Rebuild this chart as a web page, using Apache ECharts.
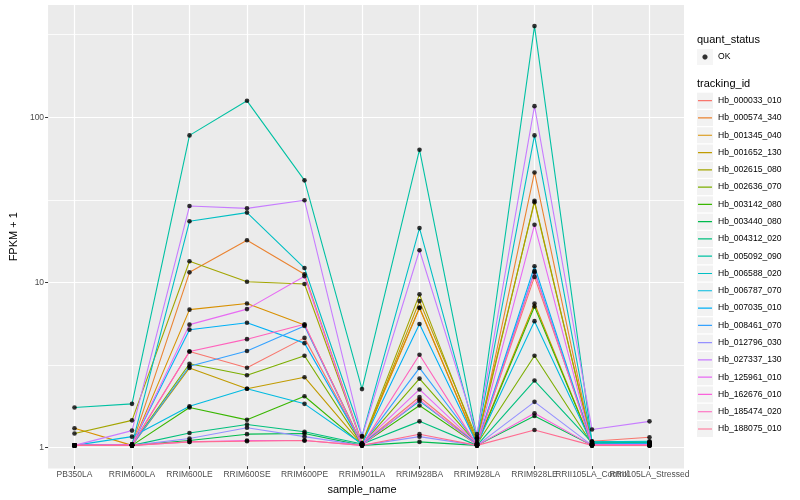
<!DOCTYPE html>
<html><head><meta charset="utf-8">
<script src="https://cdn.jsdelivr.net/npm/echarts@6/dist/echarts.min.js"></script>
<style>html,body{margin:0;padding:0;background:#fff}#c{width:800px;height:500px}</style>
</head><body><div id="c"></div>
<script>
const categories = ['PB350LA','RRIM600LA','RRIM600LE','RRIM600SE','RRIM600PE','RRIM901LA','RRIM928BA','RRIM928LA','RRIM928LE','RRII105LA_Control','RRII105LA_Stressed'];
const trackingIds = ['Hb_000033_010','Hb_000574_340','Hb_001345_040','Hb_001652_130','Hb_002615_080','Hb_002636_070','Hb_003142_080','Hb_003440_080','Hb_004312_020','Hb_005092_090','Hb_006588_020','Hb_006787_070','Hb_007035_010','Hb_008461_070','Hb_012796_030','Hb_027337_130','Hb_125961_010','Hb_162676_010','Hb_185474_020','Hb_188075_010'];
const colors = ['#F8766D','#EA8331','#D89000','#C09B00','#A3A500','#7CAE00','#39B600','#00BB4E','#00BF7D','#00C1A3','#00BFC4','#00BAE0','#00B0F6','#35A2FF','#9590FF','#C77CFF','#E76BF3','#FA62DB','#FF62BC','#FF6C91'];

// FPKM + 1 per sample (same order as categories)
const Hb_000033_010 = [1.0, 1.01, 3.73, 2.97, 4.51, 1.02, 1.97, 1.02, 10.6, 1.06, 1.12];
const Hb_000574_340 = [1.0, 1.01, 11.3, 17.7, 11.0, 1.03, 6.9, 1.03, 45.8, 1.02, 1.03];
const Hb_001345_040 = [1.27, 1.0, 6.7, 7.3, 5.4, 1.02, 6.85, 1.02, 7.3, 1.01, 1.02];
const Hb_001652_130 = [1.0, 1.0, 2.96, 2.21, 2.60, 1.01, 7.55, 1.10, 30.2, 1.02, 1.03];
const Hb_002615_080 = [1.18, 1.42, 13.2, 9.9, 9.6, 1.03, 8.3, 1.05, 30.8, 1.03, 1.04];
const Hb_002636_070 = [1.0, 1.01, 3.14, 2.67, 3.51, 1.01, 2.55, 1.02, 3.51, 1.02, 1.02];
const Hb_003142_080 = [1.0, 1.0, 1.70, 1.43, 1.99, 1.01, 1.75, 1.01, 7.0, 1.01, 1.01];
const Hb_003440_080 = [1.0, 1.0, 1.07, 1.17, 1.18, 1.0, 1.05, 1.0, 1.51, 1.0, 1.0];
const Hb_004312_020 = [1.0, 1.0, 1.19, 1.34, 1.21, 1.02, 1.40, 1.0, 2.48, 1.04, 1.04];
const Hb_005092_090 = [1.70, 1.79, 77, 125, 41, 2.2, 63, 1.12, 356, 1.05, 1.05];
const Hb_006588_020 = [1.0, 1.01, 23.1, 26.1, 12.0, 1.14, 21, 1.10, 77, 1.05, 1.06];
const Hb_006787_070 = [1.0, 1.13, 1.73, 2.21, 1.79, 1.02, 1.86, 1.02, 5.7, 1.02, 1.03];
const Hb_007035_010 = [1.0, 1.01, 5.06, 5.57, 4.19, 1.02, 5.48, 1.02, 12.3, 1.02, 1.02];
const Hb_008461_070 = [1.0, 1.0, 3.03, 3.75, 5.33, 1.01, 2.96, 1.02, 11.5, 1.01, 1.02];
const Hb_012796_030 = [1.0, 1.0, 1.10, 1.28, 1.13, 1.0, 1.13, 1.0, 1.84, 1.0, 1.0];
const Hb_027337_130 = [1.0, 1.23, 28.6, 27.7, 31, 1.13, 15.4, 1.17, 116, 1.25, 1.40];
const Hb_125961_010 = [1.0, 1.01, 5.43, 6.75, 10.7, 1.02, 2.19, 1.02, 22, 1.01, 1.01];
const Hb_162676_010 = [1.0, 1.0, 1.05, 1.07, 1.07, 1.0, 1.90, 1.0, 1.57, 1.0, 1.0];
const Hb_185474_020 = [1.0, 1.0, 3.73, 4.43, 5.46, 1.0, 3.56, 1.0, 11.3, 1.0, 1.0];
const Hb_188075_010 = [1.0, 1.0, 1.05, 1.06, 1.07, 1.0, 1.17, 1.0, 1.24, 1.0, 1.0];

const seriesValues = [Hb_000033_010,Hb_000574_340,Hb_001345_040,Hb_001652_130,Hb_002615_080,Hb_002636_070,Hb_003142_080,Hb_003440_080,Hb_004312_020,Hb_005092_090,Hb_006588_020,Hb_006787_070,Hb_007035_010,Hb_008461_070,Hb_012796_030,Hb_027337_130,Hb_125961_010,Hb_162676_010,Hb_185474_020,Hb_188075_010];

const yTickValues = [1, 10, 100];
const yTickLabels = ['1', '10', '100'];
const yMinorValues = [Math.sqrt(10), Math.sqrt(1000), Math.sqrt(100000)];

const FONT = 'Liberation Sans';
const Y_MIN = 0.748, Y_MAX = 478.6;
const LOG_MIN = Math.log10(Y_MIN), LOG_MAX = Math.log10(Y_MAX);
const PANEL = {left: 40, top: 5, width: 644, height: 463.5};
const UNIT = PANEL.width / (categories.length + 0.2);
const yMajorLog = yTickValues.map(v => Math.log10(v));
const yMinorLog = yMinorValues.map(v => Math.log10(v));
// pixel row of a log10 value inside the panel (used only to place the minor-grid helper grid)
const rowOf = l => PANEL.top + PANEL.height * (LOG_MAX - l) / (LOG_MAX - LOG_MIN);
const minorTop = rowOf(yMinorLog[yMinorLog.length - 1]);
const minorBottom = rowOf(yMinorLog[0]);

const LINE_ICON = 'path://M0,0h0.02v0.02H0z M16,16h0.02v0.02H16z M1,7.4h14v1.2H1z';
const DOT_ICON = 'path://M0,0h0.02v0.02H0z M16,16h0.02v0.02H16z M7,5.5h2l1.5,1.5v2l-1.5,1.5h-2l-1.5,-1.5v-2z';

const chart = echarts.init(document.getElementById('c'));

const lineSeries = trackingIds.map((id, k) => ({
  name: id, type: 'line', xAxisIndex: 1, yAxisIndex: 2,
  data: seriesValues[k], showSymbol: false, symbol: 'none',
  lineStyle: {width: 1.1, color: colors[k]}, itemStyle: {color: colors[k]},
  emphasis: {disabled: true}, silent: true, z: 2
}));
const pointData = [];
seriesValues.forEach(vals => vals.forEach((v, i) => pointData.push([i, v])));

const legendBase = {orient: 'vertical', left: 697, itemWidth: 16, itemHeight: 16, itemGap: 1.28, padding: 0, selectedMode: false};

chart.setOption({
  animation: false,
  backgroundColor: '#fff',
  title: [
    {text: 'quant_status', left: 697, top: 34, padding: 0, textStyle: {fontSize: 11, fontWeight: 'normal', color: '#000', fontFamily: FONT}},
    {text: 'tracking_id', left: 697, top: 78, padding: 0, textStyle: {fontSize: 11, fontWeight: 'normal', color: '#000', fontFamily: FONT}}
  ],
  grid: [
    {left: PANEL.left, top: PANEL.top, width: PANEL.width, height: PANEL.height, show: true, backgroundColor: '#EBEBEB', borderWidth: 0, containLabel: false, z: 0},
    {left: PANEL.left + 0.6 * UNIT, top: PANEL.top, width: PANEL.width - 1.2 * UNIT, height: PANEL.height, show: false, containLabel: false},
    {left: PANEL.left, top: minorTop, width: PANEL.width, height: minorBottom - minorTop, show: false, containLabel: false}
  ],
  xAxis: [
    {gridIndex: 0, type: 'value', min: 0, max: 1, show: false},
    {gridIndex: 1, type: 'category', data: categories, boundaryGap: false,
     axisLine: {show: false},
     axisTick: {show: true, interval: 0, length: 3, lineStyle: {color: '#333', width: 1}},
     axisLabel: {interval: 0, fontSize: 8.5, color: '#4D4D4D', margin: 4, fontFamily: FONT},
     splitLine: {show: true, interval: 0, lineStyle: {color: '#fff', width: 1.2}},
     name: 'sample_name', nameLocation: 'middle', nameGap: 13,
     nameTextStyle: {fontSize: 11, color: '#000', fontFamily: FONT, verticalAlign: 'top'}},
    {gridIndex: 2, type: 'value', min: 0, max: 1, show: false}
  ],
  yAxis: [
    {gridIndex: 2, type: 'value', position: 'left', min: 0, max: yMinorLog.length - 1, interval: 1, z: 1,
     axisLine: {show: false}, axisTick: {show: false}, axisLabel: {show: false},
     splitLine: {show: true, lineStyle: {color: '#fff', width: 0.8}}},
    {gridIndex: 0, type: 'value', position: 'left', min: LOG_MIN, max: LOG_MAX,
     axisLine: {show: false},
     axisTick: {show: true, length: 3, lineStyle: {color: '#333', width: 1}, customValues: yMajorLog},
     axisLabel: {customValues: yMajorLog, fontSize: 8.5, color: '#4D4D4D', margin: 4, fontFamily: FONT,
       formatter: v => { const i = yMajorLog.findIndex(t => Math.abs(t - v) < 1e-6); return i >= 0 ? yTickLabels[i] : ''; }},
     splitLine: {show: true, lineStyle: {color: '#fff', width: 1.2}},
     name: 'FPKM + 1', nameLocation: 'middle', nameGap: 22,
     nameTextStyle: {fontSize: 11, color: '#000', fontFamily: FONT}},
    {gridIndex: 1, type: 'log', logBase: 10, min: Y_MIN, max: Y_MAX, show: false, splitLine: {show: false}}
  ],
  legend: [
    Object.assign({}, legendBase, {top: 92.7, data: trackingIds, icon: 'rect', itemStyle: {color: '#F2F2F2', borderWidth: 0}, textStyle: {fontSize: 8.6, fontFamily: FONT, color: 'rgba(0,0,0,0)'}}),
    Object.assign({}, legendBase, {top: 92.7, data: trackingIds, icon: LINE_ICON, itemStyle: {borderWidth: 0}, textStyle: {fontSize: 8.6, fontFamily: FONT, color: '#000'}}),
    Object.assign({}, legendBase, {top: 49, data: ['OK'], icon: 'rect', itemStyle: {color: '#F2F2F2', borderWidth: 0}, textStyle: {fontSize: 8.6, fontFamily: FONT, color: 'rgba(0,0,0,0)'}}),
    Object.assign({}, legendBase, {top: 49, data: ['OK'], icon: DOT_ICON, itemStyle: {borderWidth: 0}, textStyle: {fontSize: 8.6, fontFamily: FONT, color: '#000'}})
  ],
  series: lineSeries.concat([{
    name: 'OK', type: 'scatter', xAxisIndex: 1, yAxisIndex: 2, data: pointData,
    symbol: 'circle', symbolSize: 4.6, itemStyle: {color: '#000'}, silent: true, z: 3,
    emphasis: {disabled: true}
  }])
});
</script></body></html>
